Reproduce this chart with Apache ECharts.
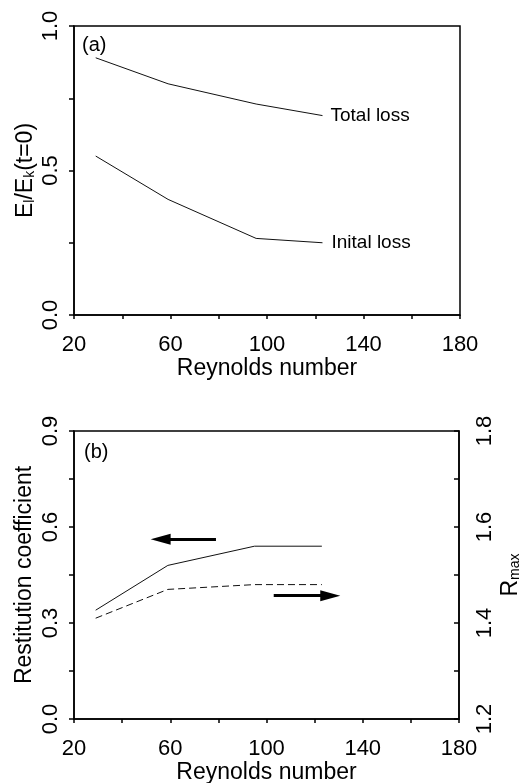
<!DOCTYPE html>
<html>
<head>
<meta charset="utf-8">
<script src="https://cdn.jsdelivr.net/npm/echarts@6/dist/echarts.min.js"></script>
<style>
  html, body { margin: 0; padding: 0; background: #fff; }
  #main { width: 529px; height: 783px; }
</style>
</head>
<body>
<div id="main"></div>
<script>
// (a) energy loss vs Reynolds number
var reA = [29, 59, 95.5, 123];
var totalLoss = [0.89, 0.80, 0.73, 0.69];
var initalLoss = [0.55, 0.40, 0.265, 0.25];

// (b) restitution coefficient (left axis) and R_max (right axis)
var reB = [29, 59, 95, 123];
var restitution = [0.34, 0.48, 0.54, 0.54];
var rmax = [1.41, 1.47, 1.48, 1.48];

// arrows, in data units [x, y]
var leftArrow = [[79, 0.562], [56, 0.562]];
var rightArrow = [[103, 1.457], [126.5, 1.457]];

var font = 'Liberation Sans, Arial, Helvetica, sans-serif';

function pairs(xs, ys) {
  return xs.map(function (x, i) { return [x, ys[i]]; });
}
// only label every n-th tick
function every(step, digits) {
  return function (v) {
    var k = v / step;
    return Math.abs(k - Math.round(k)) < 1e-6 ? v.toFixed(digits) : '';
  };
}

var axisLine = { show: true, onZero: false, lineStyle: { color: '#000', width: 1.5 } };
var labelStyle = { color: '#000', fontFamily: font, fontSize: 22 };
var nameStyle = {
  color: '#000', fontFamily: font, fontSize: 23,
  rich: {
    m: { fontFamily: font, fontSize: 23, color: '#000' },
    s: { fontFamily: font, fontSize: 14, color: '#000', verticalAlign: 'bottom', lineHeight: 14 }
  }
};

function xAxis(idx) {
  return {
    type: 'value', gridIndex: idx, min: 20, max: 180, interval: 20,
    name: 'Reynolds number', nameLocation: 'middle', nameGap: 42, nameMoveOverlap: false,
    nameTextStyle: { color: '#000', fontFamily: font, fontSize: 23 },
    axisLine: axisLine,
    axisTick: { show: true, length: 4, lineStyle: { color: '#000', width: 1.5 } },
    axisLabel: Object.assign({ margin: 19, formatter: function (v) {
      return (v - 20) % 40 === 0 ? String(v) : '';
    } }, labelStyle),
    splitLine: { show: false }
  };
}

var option = {
  animation: false,
  backgroundColor: '#fff',
  title: [
    { text: '(a)', left: 77, top: 30, textStyle: { fontFamily: font, fontSize: 20, fontWeight: 'normal', color: '#000' } },
    { text: '(b)', left: 79, top: 437, textStyle: { fontFamily: font, fontSize: 20, fontWeight: 'normal', color: '#000' } }
  ],
  grid: [
    { left: 74, right: 69, top: 26, height: 289, outerBoundsMode: 'none', show: true, borderColor: '#000', borderWidth: 1.5, backgroundColor: 'transparent' },
    { left: 74, right: 70, top: 431, height: 288, outerBoundsMode: 'none', show: true, borderColor: '#000', borderWidth: 1.5, backgroundColor: 'transparent' }
  ],
  xAxis: [xAxis(0), xAxis(1)],
  yAxis: [
    {
      type: 'value', gridIndex: 0, min: 0, max: 1, interval: 0.25,
      name: '{m|E}{s|l}{m|/E}{s|k}{m|(t=0)}', nameLocation: 'middle', nameGap: 37, nameMoveOverlap: false,
      nameTextStyle: nameStyle,
      axisLine: axisLine,
      axisTick: { show: true, length: 5, lineStyle: { color: '#000', width: 1.5 } },
      axisLabel: Object.assign({ rotate: 90, margin: 12, formatter: every(0.5, 1) }, labelStyle),
      splitLine: { show: false }
    },
    {
      type: 'value', gridIndex: 1, min: 0, max: 0.9, interval: 0.15,
      name: 'Restitution coefficient', nameLocation: 'middle', nameGap: 38, nameMoveOverlap: false,
      nameTextStyle: { color: '#000', fontFamily: font, fontSize: 23 },
      axisLine: axisLine,
      axisTick: { show: true, length: 5, lineStyle: { color: '#000', width: 1.5 } },
      axisLabel: Object.assign({ rotate: 90, margin: 12, formatter: every(0.3, 1) }, labelStyle),
      splitLine: { show: false }
    },
    {
      type: 'value', gridIndex: 1, position: 'right', min: 1.2, max: 1.8, interval: 0.1,
      name: '{m|R}{s|max}', nameLocation: 'middle', nameGap: 40, nameMoveOverlap: false,
      nameTextStyle: nameStyle,
      axisLine: axisLine,
      axisTick: { show: true, inside: true, length: 5, lineStyle: { color: '#000', width: 1.5 } },
      axisLabel: Object.assign({ rotate: 90, margin: 15, formatter: every(0.2, 1) }, labelStyle),
      splitLine: { show: false }
    }
  ],
  series: [
    {
      name: 'Total loss', type: 'line', xAxisIndex: 0, yAxisIndex: 0,
      data: pairs(reA, totalLoss), showSymbol: false,
      lineStyle: { color: '#111', width: 1 },
      endLabel: { show: true, formatter: '{a}', distance: 8, color: '#000', fontFamily: font, fontSize: 19 }
    },
    {
      name: 'Inital loss', type: 'line', xAxisIndex: 0, yAxisIndex: 0,
      data: pairs(reA, initalLoss), showSymbol: false,
      lineStyle: { color: '#111', width: 1 },
      endLabel: { show: true, formatter: '{a}', distance: 9, color: '#000', fontFamily: font, fontSize: 19 }
    },
    {
      name: 'Restitution', type: 'line', xAxisIndex: 1, yAxisIndex: 1,
      data: pairs(reB, restitution), showSymbol: false,
      lineStyle: { color: '#111', width: 1 },
      markLine: {
        silent: true, symbol: ['none', 'triangle'], symbolSize: [11, 20],
        label: { show: false },
        lineStyle: { color: '#000', width: 3, type: 'solid' },
        data: [[{ coord: leftArrow[0] }, { coord: leftArrow[1] }]]
      }
    },
    {
      name: 'Rmax', type: 'line', xAxisIndex: 1, yAxisIndex: 2,
      data: pairs(reB, rmax), showSymbol: false,
      lineStyle: { color: '#111', width: 1, type: [7, 4] },
      markLine: {
        silent: true, symbol: ['none', 'triangle'], symbolSize: [11, 20],
        label: { show: false },
        lineStyle: { color: '#000', width: 3, type: 'solid' },
        data: [[{ coord: rightArrow[0] }, { coord: rightArrow[1] }]]
      }
    }
  ]
};

var chart = echarts.init(document.getElementById('main'));
chart.setOption(option);
</script>
</body>
</html>
